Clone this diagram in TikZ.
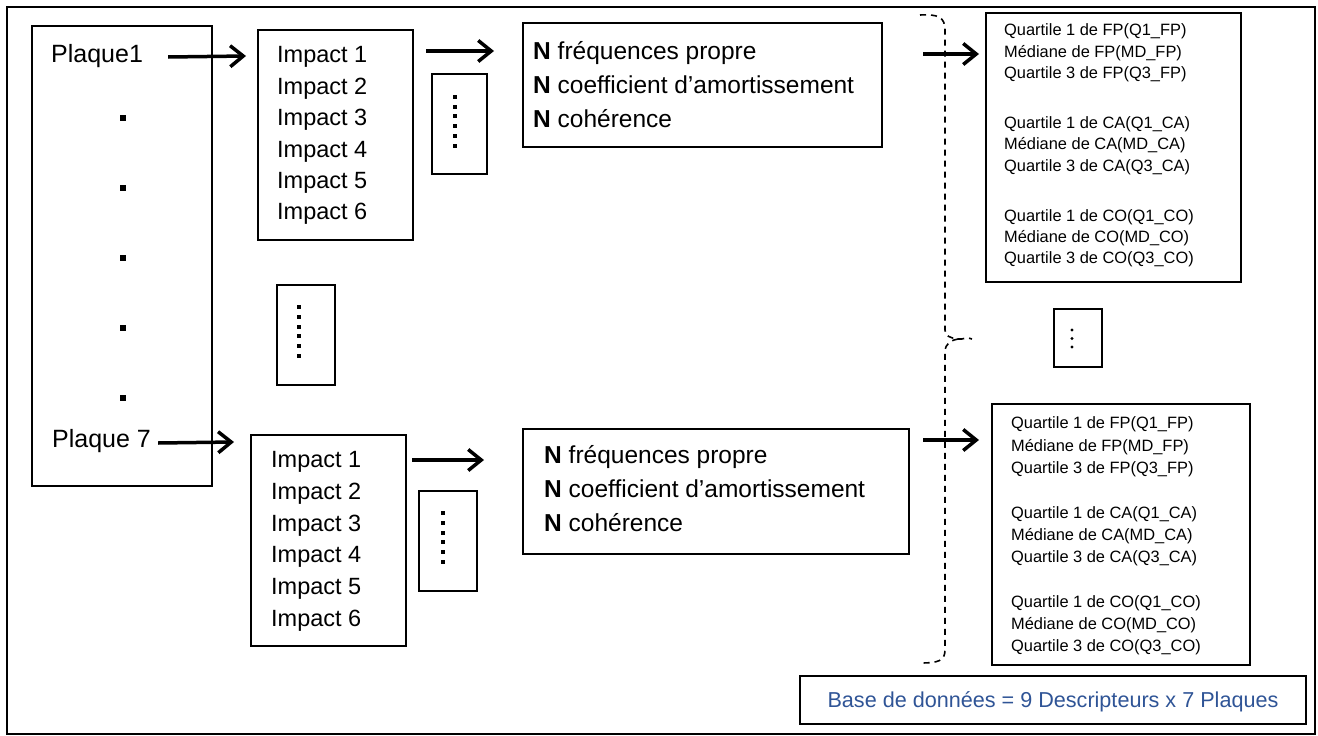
\documentclass[tikz,border=0pt]{standalone}
\usepackage{fontspec}
\setmainfont{Liberation Sans}
\usetikzlibrary{arrows.meta}
\definecolor{baseblue}{RGB}{47,84,150}
\begin{document}
\begin{tikzpicture}[x=1pt,y=-1pt,
  box/.style={draw, line width=2pt, inner sep=0pt},
  arr/.style={line width=3.5pt, -{Straight Barb[length=13pt,width=21pt]}},
  txt/.style={inner sep=0pt, anchor=west, text depth=0pt},
  plqtxt/.style={txt, font=\fontsize{25}{30}\selectfont, text height=17.9pt},
  imptxt/.style={txt, font=\fontsize{23.5}{28}\selectfont, text height=16.8pt},
  ntxt/.style={txt, font=\fontsize{24.5}{29}\selectfont, text height=17.5pt},
  qtxt/.style={txt, font=\fontsize{16.4}{20}\selectfont, text height=11.7pt},
  sq/.style={fill=black, inner sep=0pt, minimum size=6pt},
  smd/.style={fill=black, inner sep=0pt, minimum size=4pt},
  tnd/.style={fill=black, circle, inner sep=0pt, minimum size=3.2pt},
  brace/.style={line width=1.6pt, dash pattern=on 6pt off 5pt}]
\useasboundingbox (0,0) rectangle (1318,736);
% outer frame
\draw[line width=2pt] (7,7) rectangle (1315,734);

% boxes
\node[box, minimum width=180pt, minimum height=460pt] (plq) at (122,256) {};
\node[box, minimum width=155pt, minimum height=210pt] (imp1) at (335.5,135) {};
\node[box, minimum width=55pt, minimum height=100pt] (dots1) at (459.5,124) {};
\node[box, minimum width=359pt, minimum height=124pt] (nb1) at (702.5,85) {};
\node[box, minimum width=255pt, minimum height=269pt] (rb1) at (1113.5,147.5) {};
\node[box, minimum width=58pt, minimum height=100pt] (mdots) at (306,335) {};
\node[box, minimum width=48pt, minimum height=58pt] (rdots) at (1078,338) {};
\node[box, minimum width=155pt, minimum height=211pt] (imp2) at (328.5,540.5) {};
\node[box, minimum width=58pt, minimum height=100pt] (dots2) at (448,541) {};
\node[box, minimum width=386pt, minimum height=125pt] (nb2) at (716,491.5) {};
\node[box, minimum width=258pt, minimum height=261pt] (rb2) at (1121,534.5) {};
\node[box, minimum width=506pt, minimum height=48pt, text=baseblue,
      font=\fontsize{21.6}{26}\selectfont, text height=15.5pt, text depth=0pt] (base) at (1053,700)
      {Base de données = 9 Descripteurs x 7 Plaques};

% plaque texts and dots
\node[plqtxt] (pl1) at (51,54) {Plaque1};
\node[plqtxt] (pl7) at (52,439) {Plaque 7};
\foreach \y [count=\i] in {118,188,258,328,398}
  \node[sq] (pd\i) at (123,\y) {};

% impact texts
\foreach \i in {1,...,6} {
  \node[imptxt] (ia\i) at (277,{54.5+31.4*(\i-1)}) {Impact \i};
  \node[imptxt] (ib\i) at (271,{459+31.8*(\i-1)}) {Impact \i};
}

% dotted columns
\foreach \k in {0,...,5} {
  \node[smd] (da\k) at (455,{97+9.7*\k}) {};
  \node[smd] (dm\k) at (299,{307+9.8*\k}) {};
  \node[smd] (db\k) at (443,{513+9.8*\k}) {};
}
\foreach \k in {0,1,2}
  \node[tnd] (dr\k) at (1072,{330+8.5*\k}) {};

% N boxes text
\node[ntxt] (na1) at (533,51) {\textbf{N} fréquences propre};
\node[ntxt] (na2) at (533,85) {\textbf{N} coefficient d’amortissement};
\node[ntxt] (na3) at (533,119) {\textbf{N} cohérence};
\node[ntxt] (nc1) at (544,455) {\textbf{N} fréquences propre};
\node[ntxt] (nc2) at (544,489) {\textbf{N} coefficient d’amortissement};
\node[ntxt] (nc3) at (544,523) {\textbf{N} cohérence};

% right boxes text
\foreach \g/\c [count=\gi from 0] in {FP/FP,CA/CA,CO/CO} {
  \node[qtxt] (qa\c1) at (1004,{30+92.7*\gi}) {Quartile 1 de \g(Q1\_\g)};
  \node[qtxt] (qa\c2) at (1004,{30+92.7*\gi+21.3}) {Médiane de \g(MD\_\g)};
  \node[qtxt] (qa\c3) at (1004,{30+92.7*\gi+42.6}) {Quartile 3 de \g(Q3\_\g)};
  \node[qtxt] (qb\c1) at (1011,{423+89.3*\gi}) {Quartile 1 de \g(Q1\_\g)};
  \node[qtxt] (qb\c2) at (1011,{423+89.3*\gi+22.2}) {Médiane de \g(MD\_\g)};
  \node[qtxt] (qb\c3) at (1011,{423+89.3*\gi+44.4}) {Quartile 3 de \g(Q3\_\g)};
}

% dashed brace
\draw[brace] (920,15) .. controls (938,14) and (945,17) .. (945,30) -- (945,330)
  .. controls (945,336) and (950,338) .. (958,339) .. controls (964,340) and (966,336) .. (972,339);
\draw[brace] (958,339) .. controls (952,340) and (945,343) .. (945,352) -- (945,650)
  .. controls (945,661) and (938,663) .. (920,663);

% arrows
\draw[arr] ([xshift=25pt,yshift=-3pt]pl1.east) -- ([xshift=-11pt,yshift=-27pt]imp1.north west);
\draw[arr] ([xshift=12pt,yshift=-22pt]imp1.north east) -- ([xshift=-28pt,yshift=-29pt]nb1.north west);
\draw[arr] ([xshift=40pt,yshift=-32pt]nb1.north east) -- ([xshift=-6pt,yshift=-42pt]rb1.north west);
\draw[arr] ([xshift=7pt,yshift=-4pt]pl7.east) -- ([xshift=-16pt,yshift=-8pt]imp2.north west);
\draw[arr] ([xshift=5pt,yshift=-26pt]imp2.north east) -- ([xshift=-38pt,yshift=-32pt]nb2.north west);
\draw[arr] ([xshift=13pt,yshift=-12pt]nb2.north east) -- ([xshift=-12pt,yshift=-37pt]rb2.north west);
\end{tikzpicture}
\end{document}
